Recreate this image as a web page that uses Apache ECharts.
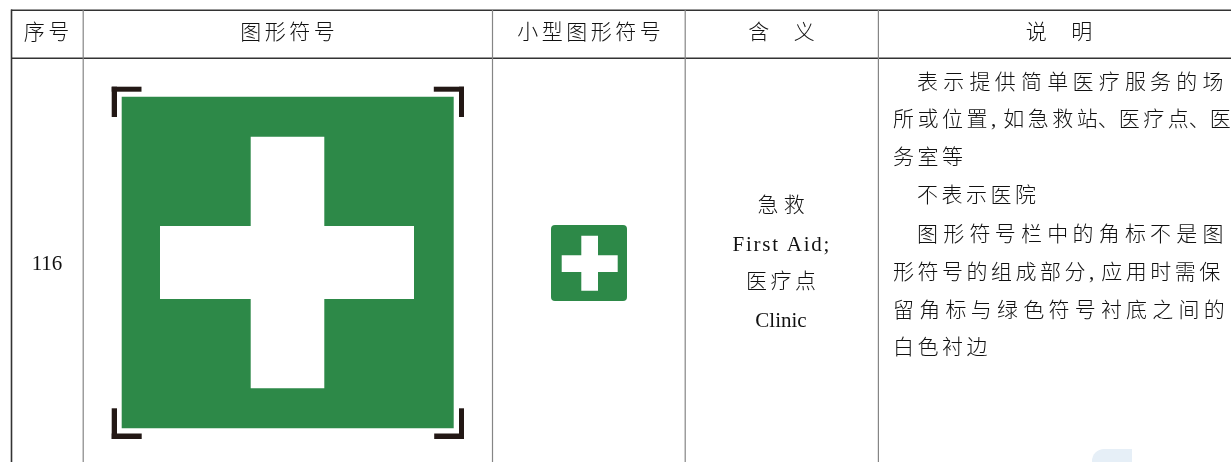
<!DOCTYPE html>
<html>
<head>
<meta charset="utf-8">
<style>html,body{margin:0;padding:0;background:#fff}#c{width:1231px;height:462px}</style>
<script src="https://cdn.jsdelivr.net/npm/echarts@6/dist/echarts.min.js"></script>
</head>
<body>
<div id="c"></div>
<script>
// ---- table content ----
const headers = ['序号', '图形符号', '小型图形符号', '含 义', '说 明'];
const serialNo = '116';
const meaning = ['急救', 'First Aid;', '医疗点', 'Clinic'];
const notes = [
  '表示提供简单医疗服务的场',
  '所或位置,如急救站、医疗点、医',
  '务室等',
  '不表示医院',
  '图形符号栏中的角标不是图',
  '形符号的组成部分,应用时需保',
  '留角标与绿色符号衬底之间的',
  '白色衬边'
];

// ---- layout ----
const HAIR = '\u200A', SIXTH = '\u2006', THIN = '\u2009', MID = '\u2005', EM3 = '\u2004';
const WIDE = [MID, MID, THIN];
const noteSpacers = [WIDE, [SIXTH], [SIXTH], [SIXTH], WIDE, [SIXTH], WIDE, [SIXTH]];
const noteX = [917, 893, 893, 917, 917, 893, 893, 893];
const noteY = [83, 120.5, 158, 196.5, 235, 273, 311, 348];
const meaningY = [206, 245, 282, 321];
const meaningSpacers = [[MID], [HAIR], [HAIR + HAIR], ['']];
const C = { dark: '#333333', grey: '#858585', green: '#2d8948', ink: '#231815', white: '#ffffff', wash: '#e6eff7' };

const rects = [
  // rules
  [11, 9.5, 1231, 11, C.dark], [11, 57.5, 1231, 59, C.dark],
  [10.7, 9.5, 12.3, 462, C.dark],
  [82.6, 10, 83.8, 462, C.grey], [491.9, 10, 493.1, 462, C.grey],
  [684.6, 10, 685.8, 462, C.grey], [877.8, 10, 879, 462, C.grey],
  // large sign
  [121.7, 96.7, 453.7, 428.3, C.green],
  [250.7, 136.7, 324.3, 388.3, C.white], [160, 226, 414, 299, C.white],
  // corner marks
  [111.7, 86.7, 141.5, 91.7, C.ink], [111.7, 86.7, 117, 117, C.ink],
  [433.8, 86.7, 464, 91.7, C.ink], [459, 86.7, 464, 117, C.ink],
  [111.7, 433.5, 141.7, 439, C.ink], [111.7, 408.3, 117, 439, C.ink],
  [434.2, 433.5, 464, 439, C.ink], [459, 408.3, 464, 439, C.ink],
  // small sign
  [551, 225, 627, 301, C.green, 4],
  [581.3, 235.7, 598, 290.7, C.white], [561.7, 255.3, 617.7, 272, C.white],
  // scan wash at the bottom edge
  [1092, 449, 1132, 462, C.wash, [12, 0, 0, 0]]
];

function spaced(s, sp) {
  const ch = Array.from(s);
  let out = '', k = 0;
  ch.forEach((c, i) => {
    out += c;
    const n = ch[i + 1];
    if (!n) return;
    const g = sp[k++ % sp.length];
    if (c === ',') out += g + g;
    else if (c !== '、' && n !== '、') out += g;
  });
  return out;
}

const texts = [
  [46.5, 33, spaced(headers[0], [HAIR + HAIR]), 'center'],
  [287.5, 33, spaced(headers[1], [HAIR + HAIR]), 'center'],
  [589, 33, spaced(headers[2], [SIXTH]), 'center'],
  [781.5, 33, headers[3].replace(' ', EM3 + EM3 + EM3 + HAIR + HAIR), 'center'],
  [1059, 33, headers[4].replace(' ', EM3 + EM3 + EM3 + HAIR + HAIR), 'center'],
  [47, 264, serialNo, 'center'],
  ...meaning.map((t, i) => [781, meaningY[i], spaced(t, meaningSpacers[i]), 'center']),
  ...notes.map((t, i) => [noteX[i], noteY[i], spaced(t, noteSpacers[i]), 'left'])
];

const chart = echarts.init(document.getElementById('c'), null, { renderer: 'canvas' });
chart.setOption({
  animation: false,
  backgroundColor: '#ffffff',
  tooltip: { show: false },
  grid: { left: 0, right: 0, top: 0, bottom: 0 },
  xAxis: { type: 'value', min: 0, max: 1231, show: false },
  yAxis: { type: 'value', min: 0, max: 462, inverse: true, show: false },
  series: [
    {
      type: 'custom', silent: true, clip: false, coordinateSystem: 'cartesian2d',
      encode: { x: [0, 2], y: [1, 3] },
      data: rects.map(r => [r[0], r[1], r[2], r[3]]),
      renderItem: (params, api) => {
        const a = api.coord([api.value(0), api.value(1)]);
        const b = api.coord([api.value(2), api.value(3)]);
        const d = rects[params.dataIndex];
        return {
          type: 'rect',
          shape: { x: a[0], y: a[1], width: b[0] - a[0], height: b[1] - a[1], r: d[5] || 0 },
          style: { fill: d[4] }
        };
      }
    },
    {
      type: 'custom', silent: true, clip: false, coordinateSystem: 'cartesian2d',
      z: 5,
      encode: { x: 0, y: 1 },
      data: texts.map(t => [t[0], t[1]]),
      renderItem: (params, api) => {
        const p = api.coord([api.value(0), api.value(1)]);
        const t = texts[params.dataIndex];
        return {
          type: 'text',
          style: {
            text: t[2], x: p[0], y: p[1], fill: '#111111',
            fontFamily: '"Liberation Serif","Noto Sans CJK SC"',
            fontSize: 21, fontWeight: 300,
            align: t[3], verticalAlign: 'middle'
          }
        };
      }
    }
  ]
});
</script>
</body>
</html>
